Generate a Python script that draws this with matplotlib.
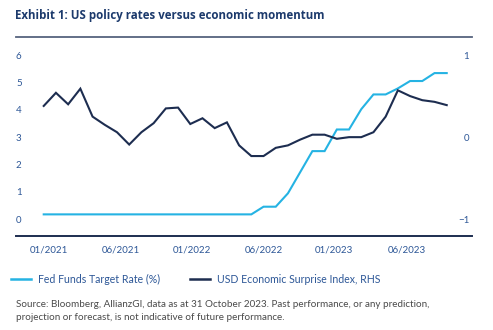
import matplotlib
matplotlib.use("Agg")
import matplotlib.pyplot as plt
from matplotlib.lines import Line2D

plt.rcParams['font.family'] = ['Lato', 'DejaVu Sans']

# Monthly observations, left axis: policy rate in %, right axis: surprise index
fed_funds = [0.18, 0.18, 0.18, 0.18, 0.18, 0.18, 0.18, 0.18, 0.18, 0.18,
             0.18, 0.18, 0.18, 0.18, 0.18, 0.18, 0.18, 0.18, 0.46, 0.46,
             0.95, 1.72, 2.49, 2.49, 3.28, 3.28, 4.02, 4.56, 4.56, 4.78,
             5.05, 5.05, 5.34, 5.34]
surprise = [0.38, 0.54, 0.40, 0.59, 0.25, 0.15, 0.06, -0.09, 0.06, 0.17,
            0.35, 0.36, 0.16, 0.23, 0.11, 0.18, -0.10, -0.23, -0.23, -0.13,
            -0.10, -0.03, 0.03, 0.03, -0.02, 0.00, 0.00, 0.06, 0.25, 0.57,
            0.50, 0.45, 0.43, 0.39]
x_tick_pos = [0.4, 6.3, 12.1, 18.0, 23.8, 29.7]
x_tick_labels = ['01/2021', '06/2021', '01/2022', '06/2022', '01/2023', '06/2023']
left_ticks = [0, 1, 2, 3, 4, 5, 6]
right_ticks = [-1, 0, 1]

LIGHT = '#25b3e3'
NAVY = '#1d2d50'
TICK = '#2d5797'
TITLE = '#1c3a6c'

W, H = 493, 330
fig = plt.figure(figsize=(W / 100, H / 100), dpi=100)
ax = fig.add_axes([16 / W, (H - 236) / H, 456 / W, 189.2 / H])
ax2 = ax.twinx()

x = list(range(len(fed_funds)))
ax.plot(x, fed_funds, color=LIGHT, lw=1.5, solid_joinstyle='miter')
ax2.plot(x, surprise, color=NAVY, lw=1.5, solid_joinstyle='miter')

ax.set_xlim(-2.27, 35.07)
ax.set_ylim(-0.61, 6.3)
ax2.set_ylim((-0.61 - 3) / 3, (6.3 - 3) / 3)

for a in (ax, ax2):
    for s in a.spines.values():
        s.set_visible(False)
ax.spines['bottom'].set_visible(True)
ax.spines['bottom'].set_color(NAVY)
ax.spines['bottom'].set_linewidth(1.4)

ax.set_xticks(x_tick_pos)
ax.set_xticklabels(x_tick_labels)
ax.tick_params(axis='x', length=0, pad=7, labelsize=7, labelcolor=TICK)

ax.set_yticks(left_ticks)
ax.tick_params(axis='y', length=0, pad=0, labelsize=7, labelcolor=TICK)
for lbl in ax.get_yticklabels():
    lbl.set_horizontalalignment('left')

ax2.set_yticks(right_ticks)
ax2.set_yticklabels(['\u22121', '0', '1'])
ax2.tick_params(axis='y', length=0, pad=-2, labelsize=7, labelcolor=TICK)
for lbl in ax2.get_yticklabels():
    lbl.set_horizontalalignment('right')

# title and rule underneath
fig.text(15 / W, 1 - 16 / H, 'Exhibit 1: US policy rates versus economic momentum',
         ha='left', va='center', fontsize=8.3, fontweight='bold', color=TITLE,
         family='Open Sans')
fig.add_artist(Line2D([16 / W, 472 / W], [1 - 37 / H, 1 - 37 / H],
                      color='#56637e', lw=1.3))

# legend
handles = [Line2D([], [], color=LIGHT, lw=1.8), Line2D([], [], color=NAVY, lw=1.8)]
fig.legend(handles, ['Fed Funds Target Rate (%)', 'USD Economic Surprise Index, RHS'],
           loc='center left', bbox_to_anchor=(11 / W, 1 - 279.5 / H), ncol=2,
           frameon=False, fontsize=7.6, labelcolor=TICK, handlelength=1.9,
           handletextpad=0.7, columnspacing=2.75, borderaxespad=0, borderpad=0)

fig.text(16 / W, 1 - 311 / H,
         'Source: Bloomberg, AllianzGI, data as at 31 October 2023. Past performance, or any prediction,\n'
         'projection or forecast, is not indicative of future performance.',
         ha='left', va='center', fontsize=7.1, color='#4a4a4a', linespacing=1.45)

fig.savefig('out.png', dpi=100)
